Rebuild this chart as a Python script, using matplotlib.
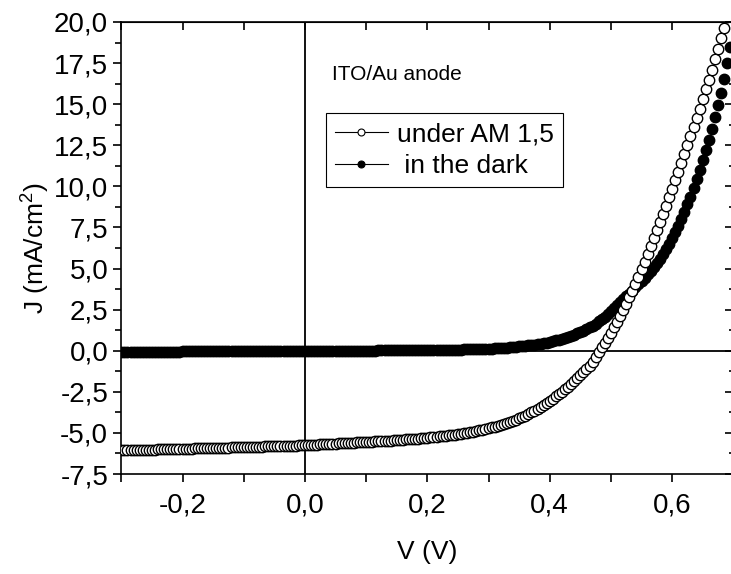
import numpy as np
import matplotlib
matplotlib.use('Agg')
import matplotlib.pyplot as plt
from matplotlib.ticker import MultipleLocator, FuncFormatter, NullFormatter
from matplotlib.lines import Line2D

plt.rcParams['font.family'] = ['Liberation Sans', 'DejaVu Sans']
plt.rcParams['mathtext.fontset'] = 'custom'
plt.rcParams['mathtext.rm'] = 'Liberation Sans'

# voltage sweep: -0.30 V upward in 5 mV steps
v_start = -0.30
v_step = 0.005

# J (mA/cm2) under AM 1,5
j_light = [
    -6.06, -6.06, -6.05, -6.05, -6.04, -6.04, -6.03, -6.03, -6.02, -6.02,
    -6.01, -6.01, -6.00, -6.00, -5.99, -5.99, -5.98, -5.98, -5.97, -5.97,
    -5.96, -5.96, -5.95, -5.95, -5.94, -5.94, -5.93, -5.93, -5.92, -5.92,
    -5.91, -5.91, -5.90, -5.90, -5.89, -5.89, -5.88, -5.88, -5.87, -5.87,
    -5.86, -5.86, -5.85, -5.85, -5.84, -5.83, -5.83, -5.82, -5.82, -5.81,
    -5.80, -5.80, -5.79, -5.79, -5.78, -5.78, -5.77, -5.77, -5.76, -5.76,
    -5.75,
    -5.74, -5.73, -5.72, -5.71, -5.70, -5.69, -5.68, -5.67, -5.66, -5.65,
    -5.64, -5.63, -5.62, -5.61, -5.60, -5.59, -5.58, -5.57, -5.56, -5.55,
    -5.54, -5.53, -5.52, -5.51, -5.50, -5.49, -5.48, -5.47, -5.46, -5.45,
    -5.43, -5.42, -5.40, -5.39, -5.37, -5.36, -5.34, -5.33, -5.31, -5.29,
    -5.27, -5.25, -5.23, -5.21, -5.19, -5.17, -5.15, -5.13, -5.10, -5.07,
    -5.04, -5.01, -4.98, -4.95, -4.92, -4.88, -4.85, -4.81, -4.77, -4.72,
    -4.67, -4.62, -4.57, -4.52, -4.46, -4.40, -4.34, -4.27, -4.20, -4.12,
    -4.04, -3.95, -3.85, -3.75, -3.64, -3.53, -3.42, -3.30, -3.18, -3.05,
    -2.92, -2.78, -2.64, -2.50, -2.34, -2.18, -2.02, -1.85, -1.68, -1.50,
    -1.31, -1.12, -0.92, -0.68, -0.40, -0.10, 0.20, 0.50, 0.80, 1.10,
    1.42, 1.76, 2.11, 2.48, 2.86, 3.25, 3.65, 4.07, 4.50, 4.95,
    5.40, 5.87, 6.35, 6.83, 7.32, 7.82, 8.32, 8.83, 9.34, 9.86,
    10.38, 10.90, 11.43, 11.96, 12.50, 13.05, 13.60, 14.16, 14.73, 15.30,
    15.90, 16.50, 17.10, 17.72, 18.35, 19.00, 19.65, 20.30,
]

# J (mA/cm2) in the dark
j_dark = [
    -0.05, -0.05, -0.05, -0.05, -0.05, -0.05, -0.05, -0.05, -0.05, -0.05,
    -0.05, -0.05, -0.05, -0.05, -0.05, -0.05, -0.05, -0.05, -0.05, -0.05,
    -0.04, -0.04, -0.04, -0.04, -0.04, -0.04, -0.04, -0.04, -0.04, -0.04,
    -0.04, -0.04, -0.04, -0.04, -0.04, -0.04, -0.04, -0.04, -0.04, -0.04,
    -0.02, -0.02, -0.02, -0.02, -0.02, -0.02, -0.02, -0.02, -0.02, -0.02,
    -0.02, -0.02, -0.02, -0.02, -0.02, -0.02, -0.02, -0.02, -0.02, -0.02,
    0.00, 0.00, 0.00, 0.00, 0.00, 0.00, 0.00, 0.00, 0.00, 0.00,
    0.01, 0.01, 0.01, 0.01, 0.01, 0.01, 0.01, 0.01, 0.01, 0.01,
    0.01, 0.01, 0.01, 0.01, 0.02, 0.02, 0.02, 0.02, 0.02, 0.02,
    0.02, 0.02, 0.02, 0.02, 0.02, 0.03, 0.03, 0.03, 0.03, 0.03,
    0.03, 0.03, 0.04, 0.04, 0.04, 0.05, 0.05, 0.05, 0.06, 0.06,
    0.07, 0.07, 0.08, 0.08, 0.09, 0.09, 0.10, 0.10, 0.11, 0.11,
    0.12,
    0.13, 0.14, 0.15, 0.16, 0.18, 0.19, 0.21, 0.22, 0.24, 0.26,
    0.28, 0.30, 0.32, 0.35, 0.37, 0.40, 0.43, 0.47, 0.50, 0.54,
    0.58, 0.63, 0.68, 0.73, 0.78, 0.84, 0.91, 0.98, 1.06, 1.14,
    1.23, 1.32, 1.42, 1.53, 1.65, 1.78, 1.92, 2.07, 2.23, 2.40,
    2.58, 2.76, 2.94, 3.12, 3.30, 3.48, 3.66, 3.85, 4.04, 4.23,
    4.44, 4.65, 4.87, 5.10, 5.34, 5.60, 5.88, 6.18, 6.50, 6.85,
    7.21, 7.60, 8.01, 8.44, 8.90, 9.38, 9.90, 10.44, 11.00, 11.58,
    12.19, 12.83, 13.50, 14.20, 14.93, 15.70, 16.55, 17.48, 18.48,
]

labels = ['under AM 1,5', ' in the dark']

v_light = np.round(v_start + v_step * np.arange(len(j_light)), 3)
v_dark = np.round(v_start + v_step * np.arange(len(j_dark)), 3)

fig = plt.figure(figsize=(7.31, 5.74), dpi=100)
ax = fig.add_axes([0.166, 0.1742, 0.8372, 0.7875])

ax.axhline(0, color='black', lw=1.3, zorder=1)
ax.axvline(0, color='black', lw=1.3, zorder=1)

ax.plot(v_dark, j_dark, 'o', ms=7.5, mfc='black', mec='black', mew=1.0, zorder=3)
ax.plot(v_light, j_light, 'o', ms=7.5, mfc='white', mec='black', mew=1.0, zorder=4)

ax.set_xlim(-0.3, 0.7)
ax.set_ylim(-7.5, 20)

comma = FuncFormatter(lambda v, p: f'{v:.1f}'.replace('.', ','))
ax.xaxis.set_major_locator(MultipleLocator(0.2))
ax.xaxis.set_minor_locator(MultipleLocator(0.1))
ax.yaxis.set_major_locator(MultipleLocator(2.5))
ax.yaxis.set_minor_locator(MultipleLocator(1.25))
ax.xaxis.set_major_formatter(comma)
ax.yaxis.set_major_formatter(comma)

for s in ax.spines.values():
    s.set_linewidth(1.2)
ax.tick_params(which='both', direction='out', width=1.2, labelsize=20, colors='black')
ax.tick_params(which='major', length=6)
ax.tick_params(axis='y', which='minor', length=4)
ax.tick_params(axis='x', which='minor', length=6)
ax.tick_params(axis='x', pad=7)

secx = ax.secondary_xaxis('top')
secx.xaxis.set_major_locator(MultipleLocator(0.1))
secx.xaxis.set_major_formatter(NullFormatter())
secx.tick_params(direction='in', length=6, width=1.2)
secy = ax.secondary_yaxis('right')
secy.yaxis.set_major_locator(MultipleLocator(2.5))
secy.yaxis.set_minor_locator(MultipleLocator(1.25))
secy.yaxis.set_major_formatter(NullFormatter())
secy.tick_params(which='major', direction='in', length=6, width=1.2)
secy.tick_params(which='minor', direction='in', length=3, width=1.2)

ax.set_xlabel('V (V)', fontsize=19, labelpad=16)
ax.set_ylabel(r'J (mA/cm$^2$)', fontsize=19, labelpad=2)

ax.text(0.344, 0.883, 'ITO/Au anode', transform=ax.transAxes, fontsize=15,
        va='center', ha='left')

handles = [
    Line2D([], [], color='black', lw=0.8, marker='o', ms=5, mfc='white', mec='black', mew=0.8),
    Line2D([], [], color='black', lw=0.8, marker='o', ms=5, mfc='black', mec='black', mew=0.8),
]
leg = ax.legend(handles, labels, loc='upper left', bbox_to_anchor=(0.334, 0.799),
                fontsize=19, frameon=True, fancybox=False, edgecolor='black',
                framealpha=1, borderaxespad=0, handlelength=2.0, handletextpad=0.35,
                labelspacing=0.3, borderpad=0.35)
leg.get_frame().set_linewidth(0.8)

fig.savefig('out.png', dpi=100)
